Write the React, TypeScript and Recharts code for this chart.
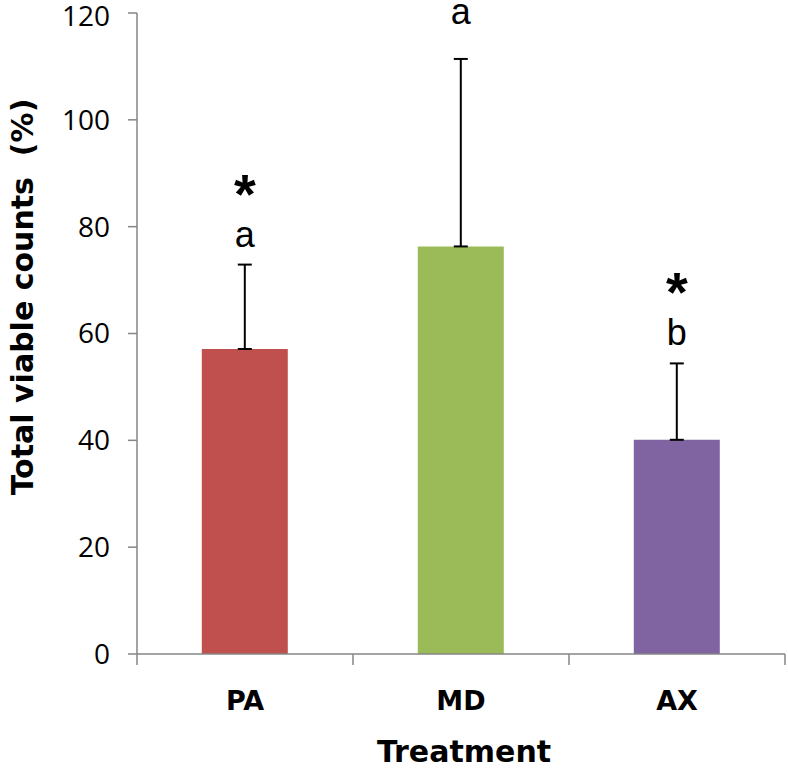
import { BarChart, Bar, XAxis, YAxis, ErrorBar, Cell, LabelList } from 'recharts';

const treatments = ['PA', 'MD', 'AX'];
const counts = [57.1, 76.3, 40.1];
const errors = [15.8, 35.1, 14.3];
const letters = ['a', 'a', 'b'];
const stars = ['*', '', '*'];
const colors = ['#C0504D', '#9BBB59', '#8064A2'];
const yTicks = [0, 20, 40, 60, 80, 100, 120];

const data = treatments.map((t, i) => ({ name: t, value: counts[i], err: [0, errors[i]] }));

const axisColor = '#868686';

function XTick(props: any) {
  const { x, y, payload, index } = props;
  const off = payload.offset ?? 108;
  return (
    <g>
      <line x1={x - off} x2={x - off} y1={y} y2={y + 11} stroke={axisColor} strokeWidth={1.5} />
      {index === treatments.length - 1 && (
        <line x1={x + off} x2={x + off} y1={y} y2={y + 11} stroke={axisColor} strokeWidth={1.5} />
      )}
      <text x={x} y={y + 56} textAnchor="middle" fontFamily="DejaVu Sans" fontWeight="bold" fontSize={27} fill="#000">
        {payload.value}
      </text>
    </g>
  );
}

// letters + significance stars sit above the error bar cap
function Marks(props: any) {
  const { x, y, width, height, index } = props;
  const cx = x + width / 2;
  const errTop = y - (errors[index] * height) / counts[index];
  const gap = stars[index] ? 18 : 35;
  return (
    <g>
      <text x={cx} y={errTop - gap} textAnchor="middle" fontFamily="Liberation Sans" fontSize={36} fill="#000">
        {letters[index]}
      </text>
      {stars[index] && (
        <text x={cx} y={errTop - 52} textAnchor="middle" fontFamily="Liberation Sans" fontWeight="bold" fontSize={56} fill="#000">
          {stars[index]}
        </text>
      )}
    </g>
  );
}

export default function App() {
  return (
    <div style={{ position: 'absolute', left: 0, top: 0, width: 788, height: 768, background: '#fff' }}>
      <BarChart width={788} height={768} data={data} margin={{ top: 13, right: 3, bottom: 0, left: 0 }} barCategoryGap="30%">
        <XAxis
          dataKey="name"
          tick={<XTick />}
          tickLine={false}
          tickSize={0}
          tickMargin={0}
          axisLine={{ stroke: axisColor, strokeWidth: 1.5 }}
          height={114}
          interval={0}
          label={({ viewBox }: any) => (
            <text x={viewBox.x + viewBox.width / 2 + 3} y={762} textAnchor="middle" fontFamily="DejaVu Sans" fontWeight="bold" fontSize={30} fill="#000">
              Treatment
            </text>
          )}
        />
        <YAxis
          domain={[0, 120]}
          ticks={yTicks}
          width={137}
          tickSize={9}
          tickMargin={18}
          axisLine={{ stroke: axisColor, strokeWidth: 1.5 }}
          tickLine={{ stroke: axisColor, strokeWidth: 1.5 }}
          tick={{ fontFamily: 'Open Sans', fontSize: 28, fill: '#000' }}
          label={() => {
            const cy = 297;
            return (
              <text
                x={33}
                y={cy}
                transform={`rotate(-90, 33, ${cy})`}
                textAnchor="middle"
                fontFamily="DejaVu Sans"
                fontWeight="bold"
                fontSize={30}
                fill="#000"
                style={{ whiteSpace: 'pre' }}
              >
                Total viable counts  (%)
              </text>
            );
          }}
        />
        <Bar dataKey="value" isAnimationActive={false}>
          {data.map((d, i) => (
            <Cell key={d.name} fill={colors[i]} />
          ))}
          <ErrorBar dataKey="err" width={7} stroke="#000" strokeWidth={2} direction="y" />
          <LabelList dataKey="value" content={<Marks />} />
        </Bar>
      </BarChart>
    </div>
  );
}
